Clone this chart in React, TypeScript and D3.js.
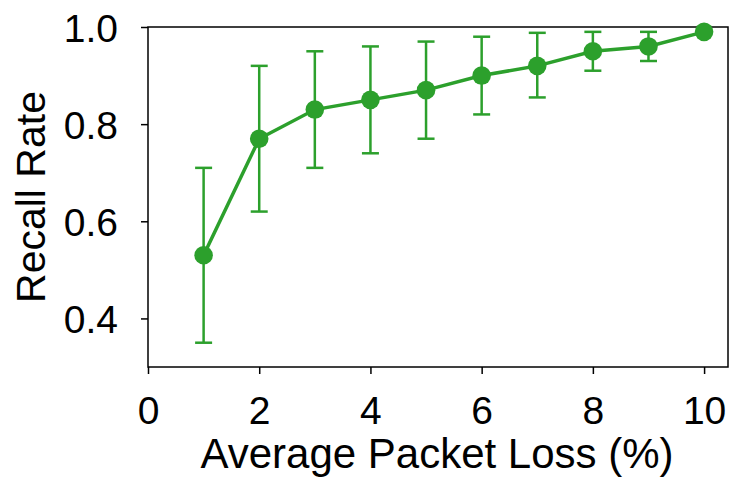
import React, { useEffect, useRef } from 'react'
import * as d3 from 'd3'

const lossRates = [1, 2, 3, 4, 5, 6, 7, 8, 9, 10]
const recallMean = [0.53, 0.77, 0.83, 0.85, 0.87, 0.9, 0.92, 0.95, 0.96, 0.99]
const recallLow = [0.35, 0.62, 0.71, 0.74, 0.77, 0.82, 0.855, 0.91, 0.93, 0.99]
const recallHigh = [0.71, 0.92, 0.95, 0.96, 0.97, 0.98, 0.988, 0.99, 0.99, 0.99]
const xTicks = [0, 2, 4, 6, 8, 10]
const yTicks = [0.4, 0.6, 0.8, 1.0]

const GREEN = '#2ca02c'
const FONT = 'Liberation Sans, Arial, sans-serif'

export default function App() {
  const ref = useRef<SVGSVGElement>(null)

  useEffect(() => {
    const svg = d3.select(ref.current)
    svg.selectAll('*').remove()

    const margin = { top: 27, right: 2, bottom: 113, left: 148 }
    const width = 730 - margin.left - margin.right // 580
    const height = 480 - margin.top - margin.bottom // 340

    const x = d3.scaleLinear().domain([0, 10.43]).range([0, width])
    const y = d3.scaleLinear().domain([0.3, 1.0]).range([height, 0])

    const g = svg.append('g').attr('transform', `translate(${margin.left},${margin.top})`)

    // 边框
    g.append('rect')
      .attr('x', 0)
      .attr('y', 0)
      .attr('width', width)
      .attr('height', height)
      .attr('fill', 'none')
      .attr('stroke', '#000')
      .attr('stroke-width', 1.5)

    // x轴
    const xAxis = g.append('g')
      .attr('transform', `translate(0,${height})`)
      .call(d3.axisBottom(x).tickValues(xTicks).tickSize(7).tickPadding(22).tickFormat(d3.format('d')))
    xAxis.select('.domain').remove()

    // y轴
    const yAxis = g.append('g')
      .call(d3.axisLeft(y).tickValues(yTicks).tickSize(7).tickPadding(23).tickFormat(d3.format('.1f')))
    yAxis.select('.domain').remove()

    svg.selectAll('.tick line').attr('stroke', '#000').attr('stroke-width', 1.5)
    svg.selectAll('.tick text')
      .attr('fill', '#000')
      .style('font-family', FONT)
      .style('font-size', '39px')
    yAxis.selectAll('.tick text').attr('dy', '0.36em')

    const pts = lossRates.map((r, i) => ({ r, m: recallMean[i], lo: recallLow[i], hi: recallHigh[i] }))

    // 误差线
    const eb = g.append('g')
    eb.selectAll('.err')
      .data(pts)
      .enter()
      .append('line')
      .attr('x1', d => x(d.r))
      .attr('x2', d => x(d.r))
      .attr('y1', d => y(d.lo))
      .attr('y2', d => y(d.hi))
      .attr('stroke', GREEN)
      .attr('stroke-width', 2.5)
    const caps = pts.filter(d => d.hi > d.lo)
    eb.selectAll('.cap-hi')
      .data(caps)
      .enter()
      .append('line')
      .attr('x1', d => x(d.r) - 8.5)
      .attr('x2', d => x(d.r) + 8.5)
      .attr('y1', d => y(d.hi))
      .attr('y2', d => y(d.hi))
      .attr('stroke', GREEN)
      .attr('stroke-width', 2.5)
    eb.selectAll('.cap-lo')
      .data(caps)
      .enter()
      .append('line')
      .attr('x1', d => x(d.r) - 8.5)
      .attr('x2', d => x(d.r) + 8.5)
      .attr('y1', d => y(d.lo))
      .attr('y2', d => y(d.lo))
      .attr('stroke', GREEN)
      .attr('stroke-width', 2.5)

    // 折线
    const line = d3.line<{ r: number; m: number }>().x(d => x(d.r)).y(d => y(d.m))
    g.append('path')
      .datum(pts)
      .attr('d', line)
      .attr('fill', 'none')
      .attr('stroke', GREEN)
      .attr('stroke-width', 3.5)

    g.selectAll('.dot')
      .data(pts)
      .enter()
      .append('circle')
      .attr('cx', d => x(d.r))
      .attr('cy', d => y(d.m))
      .attr('r', 9.3)
      .attr('fill', GREEN)

    // 轴标签
    svg.append('text')
      .attr('x', 437)
      .attr('y', 468)
      .attr('text-anchor', 'middle')
      .style('font-family', FONT)
      .style('font-size', '42px')
      .text('Average Packet Loss (%)')

    svg.append('text')
      .attr('transform', `translate(45,${margin.top + height / 2}) rotate(-90)`)
      .attr('text-anchor', 'middle')
      .style('font-family', FONT)
      .style('font-size', '41px')
      .text('Recall Rate')
  }, [])

  return (
    <svg
      ref={ref}
      width={730}
      height={480}
      style={{ position: 'absolute', left: 0, top: 0, background: '#fff' }}
    />
  )
}
